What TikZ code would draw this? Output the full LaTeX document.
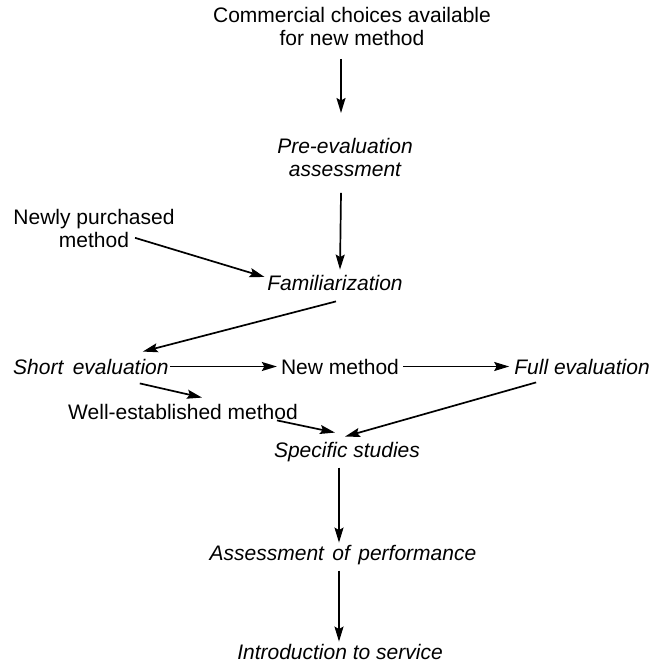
\documentclass[tikz,border=0pt]{standalone}
\usepackage{fontspec}
\setmainfont{Liberation Sans}
\usetikzlibrary{arrows.meta}
\begin{document}
\begin{tikzpicture}[x=1pt,y=-1pt,
  lbl/.style={inner sep=0pt, font=\fontsize{21}{23}\selectfont, align=center},
  ilbl/.style={inner sep=0pt, font=\fontsize{21}{23}\selectfont\itshape, align=center},
  arr/.style={line width=1.7pt, -{Stealth[length=15pt,width=9pt,inset=2.5pt]}}]
\useasboundingbox (0,0) rectangle (653,662);
% nodes
\node[lbl, anchor=north] (top) at (352,7) {Commercial choices available\\for new method};
\node[ilbl, anchor=north] (pre) at (345,138) {Pre-evaluation\\assessment};
\node[lbl, anchor=north] (newly) at (94,209) {Newly purchased\\method};
\node[ilbl, anchor=base] (fam) at (335,290) {Familiarization};
\node[ilbl, anchor=base west] (short) at (13,374) {Short\hspace{0.45em}evaluation};
\node[lbl, anchor=base] (newm) at (340,374) {New method};
\node[ilbl, anchor=base east] (full) at (650,374) {Full evaluation};
\node[lbl, anchor=base] (well) at (183,419) {Well-established method};
\node[ilbl, anchor=base] (spec) at (347,457) {Specific studies};
\node[ilbl, anchor=base] (assess) at (343,560) {Assessment\hspace{0.4em}of\hspace{0.4em}performance};
\node[ilbl, anchor=base] (intro) at (340,659) {Introduction to service};
% connectors
\draw[arr] ([shift={(-11,13)}]top.south) -- ([shift={(-4,-25)}]pre.north);
\draw[arr] ([shift={(-4,16)}]pre.south) -- ([shift={(5,-5)}]fam.north);
\draw[arr] ([shift={(41,-10)}]newly.south) -- ([shift={(-2.5,-5.5)}]fam.west);
\draw[arr] ([shift={(1,11)}]fam.south) -- ([shift={(-26,-7)}]short.north east);
\draw[arr] ([xshift=1pt]short.east) -- ([xshift=-4pt]newm.west);
\draw[arr] ([xshift=4pt]newm.east) -- ([xshift=-5pt]full.west);
\draw[arr] ([shift={(-29,9)}]short.south east) -- ([shift={(19,-6)}]well.north);
\draw[arr] ([shift={(94,1)}]well.south) -- ([shift={(-12,-9)}]spec.north);
\draw[arr] ([shift={(-46,8)}]full.south) -- ([shift={(-2,-5)}]spec.north);
\draw[arr] ([shift={(-8,6)}]spec.south) -- ([shift={(-4,-2)}]assess.north);
\draw[arr] ([shift={(-4,6)}]assess.south) -- ([shift={(-1,-2)}]intro.north);
\end{tikzpicture}
\end{document}
